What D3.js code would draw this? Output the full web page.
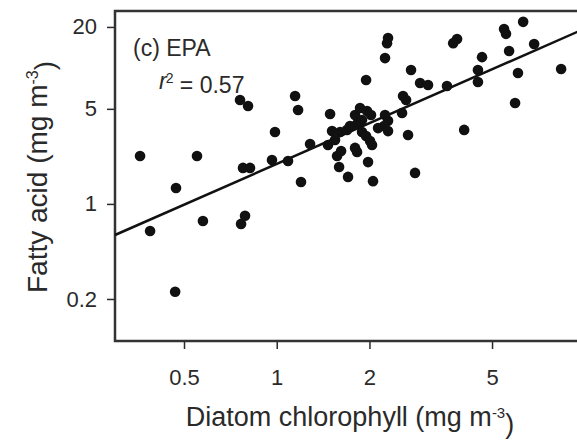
<!DOCTYPE html>
<html>
<head>
<meta charset="utf-8">
<script src="https://cdn.jsdelivr.net/npm/d3@7"></script>
<style>
  body { margin: 0; background: #fff; }
  svg { display: block; font-family: Arial, "Liberation Sans", sans-serif; }
</style>
</head>
<body>
<div class="container"></div>
<script>
// diatom chlorophyll (mg m-3) and EPA (mg m-3)
const chl = [
  0.360, 0.551, 0.471, 0.388, 0.576, 0.468, 0.766, 0.789, 0.777, 0.819,
  0.760, 0.807, 0.987, 0.965, 1.088, 1.147, 1.173, 1.199, 1.283, 1.467,
  1.490, 1.512, 1.606, 1.691, 1.570, 1.618, 1.594, 1.704, 1.796, 1.864,
  1.964, 2.024, 1.823, 1.892, 1.950, 2.009, 1.796, 1.823, 2.039, 1.979,
  2.054, 1.950, 2.247, 2.281, 2.298, 2.247, 2.298, 2.230, 2.298, 2.552,
  2.571, 2.630, 2.669, 2.729, 2.812, 2.920, 3.099, 3.57, 3.74, 3.85,
  4.06, 4.50, 4.50, 4.64, 5.47, 5.55, 5.68, 6.07, 5.94, 6.31,
  6.85, 8.38, 1.546, 1.729, 2.133, 1.892
]
const epa = [
  2.25, 2.25, 1.31, 0.632, 0.749, 0.226, 0.713, 0.818, 1.84, 1.84,
  5.81, 5.25, 3.38, 2.10, 2.07, 6.21, 4.90, 1.45, 2.76, 2.71,
  4.58, 3.43, 3.38, 3.50, 2.25, 2.45, 1.87, 1.58, 4.51, 5.07,
  4.82, 4.51, 3.87, 3.38, 3.16, 2.90, 2.58, 2.41, 2.71, 2.03,
  1.47, 8.15, 11.8, 15.2, 16.6, 4.51, 4.08, 3.74, 3.43, 4.66,
  6.21, 5.81, 3.21, 9.65, 1.69, 7.74, 7.48, 7.36, 15.2, 16.3,
  3.50, 9.65, 7.88, 12.0, 19.3, 17.8, 13.3, 9.17, 5.52, 21.8,
  15.0, 9.82, 2.95, 3.74, 3.61, 4.14
]
// log10 regression: log(EPA) = a + b * log(chl)
const FIT_INTERCEPT = 0.294
const FIT_SLOPE = 0.995

const xTicks = [0.5, 1, 2, 5]
const xTickLabels = ['0.5', '1', '2', '5']
const yTicks = [0.2, 1, 5, 20]
const yTickLabels = ['0.2', '1', '5', '20']

const W = 577
const H = 440
const LEFT = 115
const RIGHT = 590   // frame runs off the edge of the picture
const TOP = 11
const BOTTOM = 341
const INK = '#2a2a2a'

const svg = d3.select('.container')
  .append('svg')
  .attr('width', W)
  .attr('height', H)

const x = d3.scaleLog().domain([0.2985, 10.4]).range([LEFT, RIGHT])
const y = d3.scaleLog().domain([0.0982, 26.2]).range([BOTTOM, TOP])

// axes
const yAxis = d3.axisLeft(y)
  .tickValues(yTicks)
  .tickFormat((d, i) => yTickLabels[i])
  .tickSizeOuter(0)
  .tickSize(8)
  .tickPadding(10)
const xAxis = d3.axisBottom(x)
  .tickValues(xTicks)
  .tickFormat((d, i) => xTickLabels[i])
  .tickSizeOuter(0)
  .tickSize(8)
  .tickPadding(20)

const gy = svg.append('g')
  .attr('transform', `translate(${LEFT},0)`)
  .call(yAxis)
const gx = svg.append('g')
  .attr('transform', `translate(0,${BOTTOM})`)
  .call(xAxis)

for (const g of [gx, gy]) {
  g.select('.domain').remove()
  g.selectAll('line').attr('stroke', INK).attr('stroke-width', 1.5)
  g.selectAll('text')
    .attr('fill', INK)
    .style('font-size', '22px')
    .style('font-family', 'Arial, "Liberation Sans", sans-serif')
}

// frame (left, top, bottom)
svg.append('path')
  .attr('d', `M${RIGHT},${TOP}H${LEFT}V${BOTTOM}H${RIGHT}`)
  .attr('fill', 'none')
  .attr('stroke', '#333')
  .attr('stroke-width', 2.5)

// regression line
const fitX = x.domain()
svg.append('line')
  .attr('x1', x(fitX[0]))
  .attr('y1', y(Math.pow(10, FIT_INTERCEPT + FIT_SLOPE * Math.log10(fitX[0]))))
  .attr('x2', x(fitX[1]))
  .attr('y2', y(Math.pow(10, FIT_INTERCEPT + FIT_SLOPE * Math.log10(fitX[1]))))
  .attr('stroke', '#111')
  .attr('stroke-width', 2.5)

// points
svg.append('g')
  .selectAll('circle')
  .data(d3.range(chl.length))
  .enter()
    .append('circle')
    .attr('cx', i => x(chl[i]))
    .attr('cy', i => y(epa[i]))
    .attr('r', 5.3)
    .attr('fill', '#111')

// panel annotation
svg.append('text')
  .attr('x', 133)
  .attr('y', 56)
  .attr('fill', INK)
  .style('font-size', '23px')
  .text('(c) EPA')

const r2 = svg.append('text')
  .attr('x', 159)
  .attr('y', 89)
  .attr('fill', INK)
  .style('font-size', '23px')
r2.append('tspan').style('font-style', 'italic').text('r')
r2.append('tspan').attr('dy', '-0.45em').attr('dx', '-1').style('font-size', '14px').text('2')
r2.append('tspan').attr('dy', '0.45em').text(' = 0.57')

// axis titles
const xt = svg.append('text')
  .attr('x', 350)
  .attr('y', 426)
  .attr('text-anchor', 'middle')
  .attr('fill', INK)
  .style('font-size', '27px')
xt.append('tspan').text('Diatom chlorophyll (mg m')
xt.append('tspan').attr('dy', '-0.55em').style('font-size', '15px').text('-3')
xt.append('tspan').attr('dy', '0.55em').text(')')

const yt = svg.append('text')
  .attr('transform', 'translate(47,177) rotate(-90)')
  .attr('text-anchor', 'middle')
  .attr('fill', INK)
  .style('font-size', '28px')
yt.append('tspan').text('Fatty acid (mg m')
yt.append('tspan').attr('dy', '-0.55em').style('font-size', '16px').text('-3')
yt.append('tspan').attr('dy', '0.55em').text(')')
</script>
</body>
</html>
